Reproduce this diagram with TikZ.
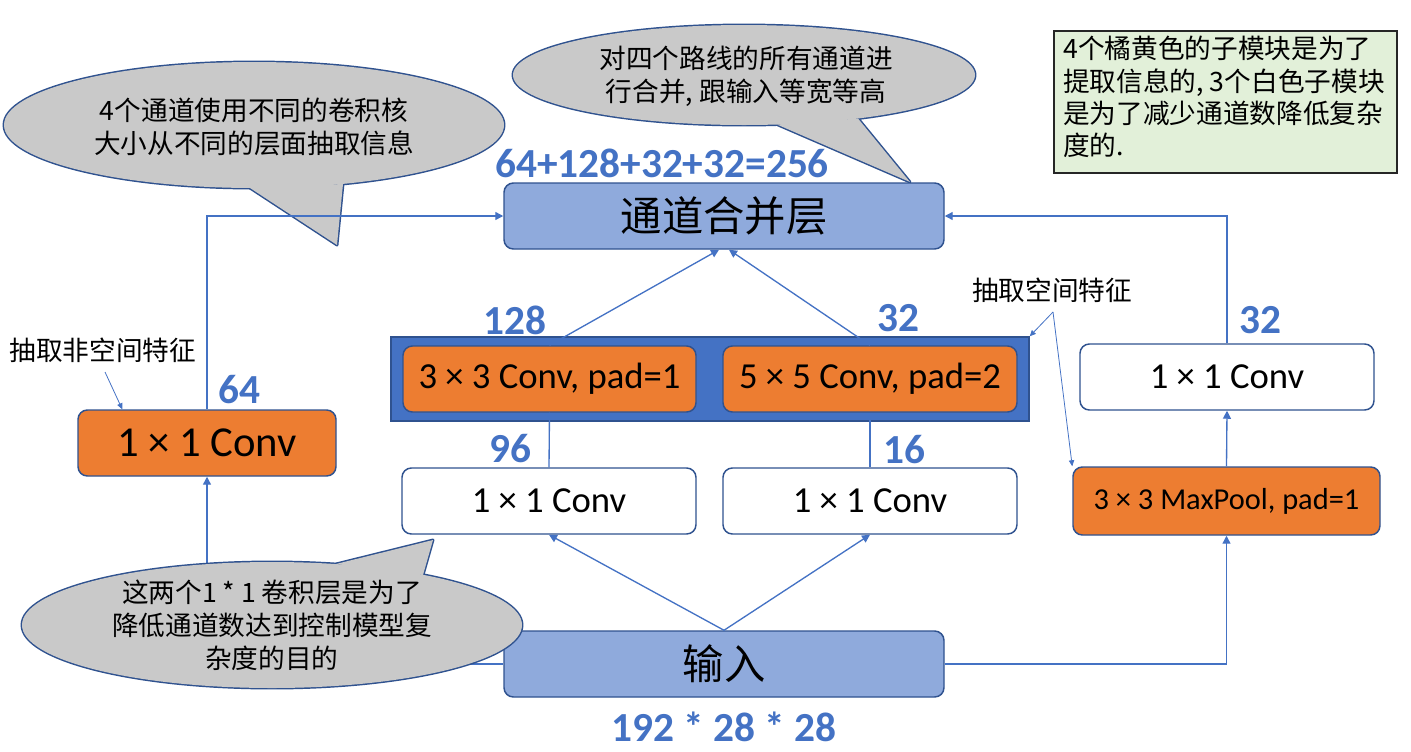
\documentclass[tikz,border=0pt]{standalone}
\usepackage{fontspec}
\setmainfont{Carlito}
\newfontfamily\cjk{Noto Sans CJK SC}
\usetikzlibrary{arrows.meta,calc}
\definecolor{lnblue}{HTML}{4472C4}
\definecolor{bdblue}{HTML}{2F528F}
\definecolor{ltblue}{HTML}{8FAADC}
\definecolor{orng}{HTML}{ED7D31}
\definecolor{calg}{HTML}{C9C9C9}
\definecolor{notegreen}{HTML}{E2F0D9}
\newcommand\mycallout[6]{%
  \draw[bdblue, line width=2.2pt] (#1) ellipse [x radius=#2, y radius=#3];
  \draw[bdblue, line width=2.2pt, line join=round] (#4) -- (#5) -- (#6) -- cycle;
  \fill[calg] (#1) ellipse [x radius=#2, y radius=#3];
  \fill[calg] (#4) -- (#5) -- (#6) -- cycle;
}
\begin{document}
\begin{tikzpicture}[x=0.75pt,y=-0.75pt,
  every node/.style={inner sep=0pt},
  blk/.style={draw=bdblue, line width=1.1pt, rounded corners=7pt, minimum height=49.5pt},
  bigcn/.style={blk, fill=ltblue, minimum width=330pt, font=\cjk\fontsize{31}{37}\selectfont},
  orbox/.style={blk, fill=orng},
  whbox/.style={blk, fill=white},
  convfont/.style={font=\fontsize{27.5}{33}\selectfont},
  num/.style={text=lnblue, font=\bfseries\fontsize{31}{37}\selectfont},
  ctext/.style={align=center, font=\cjk\fontsize{20}{24.6}\selectfont},
  lbl/.style={font=\cjk\fontsize{20}{24}\selectfont},
  edge/.style={draw=lnblue, line width=1pt, -{Triangle[length=6pt,width=6pt]}},
  lnk/.style={draw=lnblue, line width=1pt},
  thin/.style={draw=lnblue, line width=0.6pt, -{Triangle[length=4.5pt,width=4pt]}}
]
\useasboundingbox (0,0) rectangle (1411,751);

% callouts under connectors
\mycallout{254,125}{250}{63}{250,188}{337,245}{343,184}
\node[ctext] (ca) at (254,127) {4个通道使用不同的卷积核\\大小从不同的层面抽取信息};
\mycallout{744,75}{231}{50}{777,124.5}{910,182}{858,118.5}
\node[ctext] (cb) at (746,76) {对四个路线的所有通道进\\行合并, 跟输入等宽等高};

% boxes
\node[bigcn] (merge) at (724,216) {通道合并层};
\node[bigcn] (inp) at (724,664) {输入};
\node[draw=bdblue, line width=1.1pt, fill=lnblue, minimum width=478.5pt, minimum height=63pt] (grp) at (710,379) {};
\node[orbox, convfont, minimum width=219.75pt] (c33) at (549.5,379) {3 × 3 Conv, pad=1};
\node[orbox, convfont, minimum width=220.5pt] (c55) at (870,379) {5 × 5 Conv, pad=2};
\node[whbox, convfont, minimum width=220.5pt] (w1) at (549,501) {1 × 1 Conv};
\node[whbox, convfont, minimum width=220.5pt] (w2) at (870,501) {1 × 1 Conv};
\node[orbox, minimum width=193.5pt, font=\fontsize{32}{38}\selectfont] (c1) at (207,443) {1 × 1 Conv};
\node[whbox, convfont, minimum width=220.5pt] (r1) at (1227,377) {1 × 1 Conv};
\node[orbox, minimum width=230.25pt, minimum height=51pt, font=\fontsize{22.8}{27}\selectfont] (mp) at (1226.5,501) {3 × 3 MaxPool, pad=1};

% numbers
\node[num] (sum) at (662,163) {64+128+32+32=256};
\node[num] (n128) at (515,320) {128};
\node[num] (n32a) at (898,318) {32};
\node[num] (n96) at (510,449) {96};
\node[num] (n16) at (904,450) {16};
\node[num] (n64) at (239,390) {64};
\node[num] (n32b) at (1260,320) {32};
\node[num] (dims) at (724,727) {192 * 28 * 28};

% connectors
\draw[edge] (inp.north) -- (w1.south);
\draw[edge] (inp.north) -- (w2.south);
\draw[lnk] (w1.north) -- (c33.south);
\draw[lnk] (w2.north) -- (c55.south);
\draw[edge] (c33.north) -- ($(merge.south)+(-5,0)$);
\draw[edge] (c55.north) -- ($(merge.south)+(5,0)$);
\draw[edge] (c1.north) |- (merge.west);
\draw[edge] (r1.north) |- (merge.east);
\draw[edge] (inp.west) -| (c1.south);
\draw[edge] (inp.east) -| (mp.south);
\draw[edge] (mp.north) -- (r1.south);

% side labels
\node[lbl] (lsp) at (1052,290) {抽取空间特征};
\coordinate (sp) at (1053,312);
\draw[thin] (sp) -- (grp.north east);
\draw[thin] (sp) -- (mp.north west);
\node[lbl] (lnsp) at (103,350) {抽取非空间特征};
\coordinate (nsp) at (105,372);
\draw[thin] (nsp) -- ($(c1.north west)+(45,0)$);

% note
\node[draw=black!85, line width=0.8pt, fill=notegreen, minimum width=257.25pt, minimum height=106.5pt] (note) at (1225.5,102) {};
\node[anchor=north west, align=left, font=\cjk\fontsize{20}{24.3}\selectfont] (notetxt) at (1063,36) {4个橘黄色的子模块是为了\\提取信息的, 3个白色子模块\\是为了减少通道数降低复杂\\度的.};

% callout over connectors
\mycallout{272,625}{250}{63}{336,564}{433,540}{423,575}
\node[ctext] (cc) at (272,625) {这两个1 * 1 卷积层是为了\\降低通道数达到控制模型复\\杂度的目的};
\end{tikzpicture}
\end{document}
